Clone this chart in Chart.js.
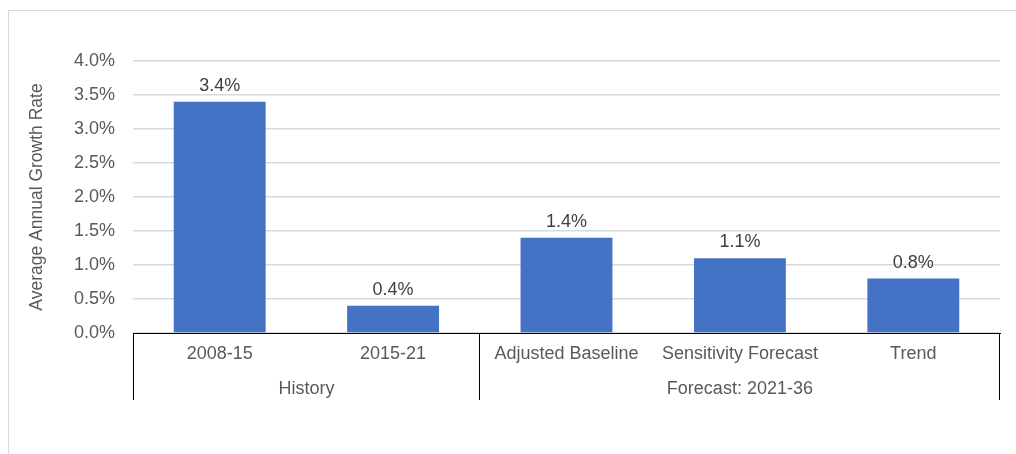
<!DOCTYPE html>
<html>
<head>
<meta charset="utf-8">
<title>Average Annual Growth Rate</title>
<script src="https://cdn.jsdelivr.net/npm/chart.js@4/dist/chart.umd.min.js"></script>
<style>
  html, body { margin: 0; padding: 0; background: #ffffff; overflow: hidden; }
  #wrap { position: relative; width: 1016px; height: 454px; }
  #frame {
    position: absolute; left: 8px; top: 10px; width: 1100px; height: 500px;
    border: 1px solid #d9d9d9; box-sizing: border-box;
  }
  #growthChart { position: absolute; left: 0; top: 0; }
</style>
</head>
<body>
<div id="wrap">
  <div id="frame"></div>
  <canvas id="growthChart" width="1016" height="454"></canvas>
</div>
<script>
// Categories, grouped under a second-level label
const categories = ['2008-15', '2015-21', 'Adjusted Baseline', 'Sensitivity Forecast', 'Trend'];
const groupLabels = ['History', 'Forecast: 2021-36'];
const groupSizes = [2, 3];

// Average annual growth, in percent
const growthRates = [3.4, 0.4, 1.4, 1.1, 0.8];

// Value axis
const yMin = 0;
const yMax = 4;
const yStep = 0.5;

const colors = {
  bar: '#4472C4',
  grid: '#d9d9d9',
  axis: '#000000',
  text: '#595959',
  label: '#404040',
};

const fontFamily = "'Liberation Sans', Arial, sans-serif";
const fontSize = 18;
const titleSize = 17.5;

// Value labels above each bar
const barValueLabels = {
  id: 'barValueLabels',
  afterDatasetsDraw(chart) {
    const ctx = chart.ctx;
    const meta = chart.getDatasetMeta(0);
    ctx.save();
    ctx.font = `${fontSize}px ${fontFamily}`;
    ctx.fillStyle = colors.label;
    ctx.textAlign = 'center';
    ctx.textBaseline = 'middle';
    meta.data.forEach((bar, i) => {
      ctx.fillText(growthRates[i].toFixed(1) + '%', bar.x, bar.y - 16);
    });
    ctx.restore();
  },
};

// Group separators and the second row of category labels
const groupAxis = {
  id: 'groupAxis',
  afterDraw(chart) {
    const ctx = chart.ctx;
    const x = chart.scales.x;
    const area = chart.chartArea;
    const half = (x.getPixelForTick(1) - x.getPixelForTick(0)) / 2;
    const lineBottom = area.bottom + 67;

    ctx.save();
    ctx.strokeStyle = colors.axis;
    ctx.lineWidth = 1;
    ctx.font = `${fontSize}px ${fontFamily}`;
    ctx.fillStyle = colors.text;
    ctx.textAlign = 'center';
    ctx.textBaseline = 'middle';

    let start = 0;
    const edges = [Math.round(x.getPixelForTick(0) - half) + 0.5];
    groupSizes.forEach((size, g) => {
      const end = start + size - 1;
      const left = x.getPixelForTick(start) - half;
      const right = x.getPixelForTick(end) + half;
      edges.push(Math.round(right) - 0.5);
      ctx.fillText(groupLabels[g], (left + right) / 2, area.bottom + 56);
      start += size;
    });

    edges.forEach((px) => {
      ctx.beginPath();
      ctx.moveTo(px, area.bottom);
      ctx.lineTo(px, lineBottom);
      ctx.stroke();
    });
    ctx.restore();
  },
};

const ctx = document.getElementById('growthChart').getContext('2d');

new Chart(ctx, {
  type: 'bar',
  data: {
    labels: categories,
    datasets: [
      {
        data: growthRates,
        backgroundColor: colors.bar,
        borderWidth: 0,
        categoryPercentage: 1,
        barPercentage: 0.53,
      },
    ],
  },
  options: {
    responsive: false,
    animation: false,
    layout: {
      padding: { left: 0, top: 61, right: 16, bottom: 0 },
    },
    plugins: {
      legend: { display: false },
      tooltip: { enabled: false },
    },
    scales: {
      x: {
        grid: { display: false, drawTicks: false },
        border: { display: true, color: colors.axis, width: 1 },
        ticks: {
          color: colors.text,
          padding: 10,
          maxRotation: 0,
          autoSkip: false,
          font: { family: fontFamily, size: fontSize },
        },
        afterFit(scale) {
          scale.height = 121;
        },
      },
      y: {
        min: yMin,
        max: yMax,
        grid: { color: colors.grid, lineWidth: 1.5, drawTicks: false },
        border: { display: false },
        ticks: {
          stepSize: yStep,
          color: colors.text,
          padding: 18,
          font: { family: fontFamily, size: fontSize },
          callback: (value) => value.toFixed(1) + '%',
        },
        title: {
          display: true,
          text: 'Average Annual Growth Rate',
          color: colors.text,
          padding: { top: 27, bottom: 0 },
          font: { family: fontFamily, size: titleSize },
        },
        afterFit(scale) {
          scale.width = 133;
        },
      },
    },
  },
  plugins: [barValueLabels, groupAxis],
});
</script>
</body>
</html>
